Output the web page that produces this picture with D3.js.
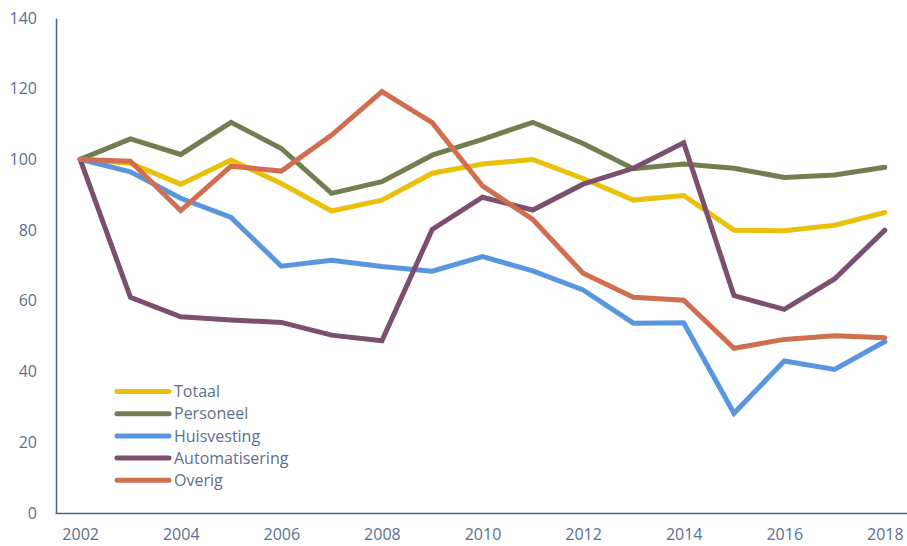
<!DOCTYPE html>
<html>
<head>
<meta charset="utf-8">
<script src="https://d3js.org/d3.v7.min.js"></script>
<style>
  body { margin: 0; background: #fff; }
  text { font-family: "Open Sans", sans-serif; fill: #5b7090; }
</style>
</head>
<body>
<div id="chart"></div>
<script>
// data
const years = [2002, 2003, 2004, 2005, 2006, 2007, 2008, 2009, 2010, 2011, 2012, 2013, 2014, 2015, 2016, 2017, 2018];
const totaal = [100, 98.9, 93.0, 99.8, 93.2, 85.4, 88.5, 96.1, 98.7, 100, 94.6, 88.5, 89.8, 80.0, 79.8, 81.4, 85.0];
const personeel = [100, 105.8, 101.4, 110.5, 103.1, 90.4, 93.7, 101.2, 105.7, 110.5, 104.5, 97.4, 98.7, 97.5, 94.9, 95.6, 97.8];
const huisvesting = [100, 96.5, 89.0, 83.6, 69.8, 71.5, 69.7, 68.4, 72.5, 68.5, 63.1, 53.7, 53.8, 28.2, 43.0, 40.6, 48.5];
const automatisering = [100, 61.0, 55.5, 54.6, 53.9, 50.3, 48.7, 80.2, 89.3, 85.7, 93.0, 97.5, 104.7, 61.5, 57.6, 66.2, 80.0];
const overig = [100, 99.5, 85.5, 98.1, 96.7, 106.9, 119.2, 110.4, 92.5, 83.0, 67.8, 61.0, 60.2, 46.6, 49.1, 50.1, 49.6];
const seriesNames = ["Totaal", "Personeel", "Huisvesting", "Automatisering", "Overig"];
const colors = ["#ebc00b", "#717f50", "#5996df", "#7c4f6e", "#d06e4f"];
const yTicks = [0, 20, 40, 60, 80, 100, 120, 140];
const xTicks = [2002, 2004, 2006, 2008, 2010, 2012, 2014, 2016, 2018];

const seriesValues = [totaal, personeel, huisvesting, automatisering, overig];
const series = seriesNames.map((name, i) => ({ name: name, color: colors[i], values: seriesValues[i] }));

const width = 907, height = 546;

const svg = d3.select("#chart").append("svg")
    .attr("width", width)
    .attr("height", height);

const x = d3.scalePoint()
    .domain(years)
    .range([55, 910])
    .padding(0.5);

const y = d3.scaleLinear()
    .domain([0, 140])
    .range([513, 18]);

// y axis
const yAxis = svg.append("g")
    .attr("transform", "translate(56,0)")
    .call(d3.axisLeft(y).tickValues(yTicks).tickSize(0).tickPadding(19));
yAxis.select(".domain").attr("stroke", "#4e6382").attr("stroke-width", 1.5);
yAxis.selectAll("text").style("font-size", "16px").attr("fill", "#5b7090");

// x axis
const xAxis = svg.append("g")
    .attr("transform", "translate(0,513)")
    .call(d3.axisBottom(x).tickValues(xTicks).tickSize(0).tickPadding(16).tickFormat(d3.format("d")));
xAxis.select(".domain").attr("stroke", "#4e6382").attr("stroke-width", 1.5);
xAxis.selectAll("text").style("font-size", "16px").attr("fill", "#5b7090");

// lines
const line = d3.line()
    .x((d, i) => x(years[i]))
    .y(d => y(d));

svg.selectAll("path.series")
    .data(series)
    .enter()
    .append("path")
    .attr("class", "series")
    .attr("d", d => line(d.values))
    .attr("fill", "none")
    .attr("stroke", d => d.color)
    .attr("stroke-width", 5)
    .attr("stroke-linecap", "round")
    .attr("stroke-linejoin", "miter");

// legend
const legend = svg.append("g")
    .attr("transform", "translate(115,391.5)");

const item = legend.selectAll("g")
    .data(series)
    .enter()
    .append("g")
    .attr("transform", (d, i) => "translate(0," + (i * 22.2) + ")");

item.append("line")
    .attr("x1", 2).attr("x2", 54)
    .attr("y1", 0).attr("y2", 0)
    .attr("stroke", d => d.color)
    .attr("stroke-width", 5)
    .attr("stroke-linecap", "round");

item.append("text")
    .attr("x", 59)
    .attr("y", 0)
    .attr("dy", "0.35em")
    .style("font-size", "16px")
    .text(d => d.name);
</script>
</body>
</html>
